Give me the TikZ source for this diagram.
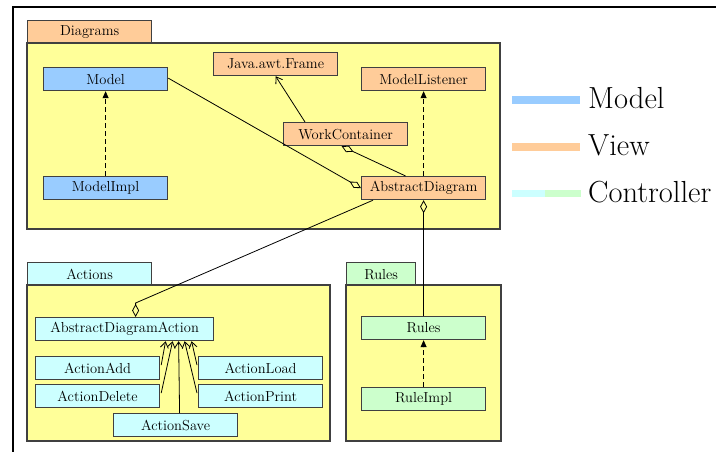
\documentclass[tikz,border=0pt]{standalone}
\usetikzlibrary{arrows.meta,calc}

\definecolor{pkgyellow}{HTML}{FFFF99}
\definecolor{modelblue}{HTML}{99CCFF}
\definecolor{vieworange}{HTML}{FFCC99}
\definecolor{ctrlcyan}{HTML}{CCFFFF}
\definecolor{ctrlgreen}{HTML}{CCFFCC}
\definecolor{edgegray}{HTML}{404040}

\tikzset{
  pkgbody/.style={draw=edgegray, line width=1.3pt, fill=pkgyellow},
  pkgtab/.style={draw=edgegray, line width=1.3pt, anchor=north west,
    minimum width=124pt, minimum height=23pt, inner sep=0pt,
    font=\fontsize{14.5}{16}\selectfont},
  cls/.style={draw=edgegray, line width=1.2pt, anchor=north west,
    minimum width=124pt, minimum height=23pt, inner sep=0pt,
    font=\fontsize{14.5}{16}\selectfont},
  modelcls/.style={cls, fill=modelblue},
  viewcls/.style={cls, fill=vieworange},
  ctrlcls/.style={cls, fill=ctrlcyan},
  rulecls/.style={cls, fill=ctrlgreen},
  assoc/.style={black, line width=0.8pt},
  aggr/.style={assoc, {Diamond[open, length=13pt, width=7pt, line width=0.8pt]}-},
  inherit/.style={assoc, -{Straight Barb[length=6pt, width=8pt, line width=0.8pt]}},
  realize/.style={assoc, dashed, dash pattern=on 5pt off 3pt,
    -{Triangle[length=7pt, width=6pt]}},
  legendline/.style={line width=7.5pt},
  legendtext/.style={anchor=west, inner sep=0pt, font=\fontsize{30.5}{32}\selectfont}
}

\begin{document}
\begin{tikzpicture}[x=1pt, y=-1pt]
\useasboundingbox (0,0) rectangle (716,452);

% outer frame (top and left edges)
\draw[line width=2pt] (13,452) -- (13,7) -- (716,7);

% ---------- package: Diagrams ----------
\node[pkgtab, fill=vieworange] (diagTab) at (27,20) {Diagrams};
\draw[pkgbody] (27,43) rectangle (500,229);

\node[modelcls] (Model)       at (43,67)  {Model};
\node[modelcls] (ModelImpl)   at (43,176) {ModelImpl};
\node[viewcls]  (Frame)       at (213,52) {Java.awt.Frame};
\node[viewcls]  (Work)        at (283,122){WorkContainer};
\node[viewcls]  (Listener)    at (361,67) {ModelListener};
\node[viewcls]  (Abstract)    at (361,176){AbstractDiagram};

% ---------- package: Actions ----------
\node[pkgtab, fill=ctrlcyan] (actTab) at (27,262) {Actions};
\draw[pkgbody] (27,285) rectangle (330,441);

\node[ctrlcls, minimum width=178pt] (ADA) at (35,317) {AbstractDiagramAction};
\node[ctrlcls] (Add)    at (35,356)  {ActionAdd};
\node[ctrlcls] (Delete) at (35,384)  {ActionDelete};
\node[ctrlcls] (Load)   at (198,356) {ActionLoad};
\node[ctrlcls] (Print)  at (198,384) {ActionPrint};
\node[ctrlcls] (Save)   at (113,413) {ActionSave};

% ---------- package: Rules ----------
\node[pkgtab, fill=ctrlgreen, minimum width=69pt] (ruleTab) at (346,262) {Rules};
\draw[pkgbody] (346,285) rectangle (501,441);

\node[rulecls] (Rules)    at (361,316) {Rules};
\node[rulecls] (RuleImpl) at (361,387) {RuleImpl};

% ---------- connectors ----------
\draw[realize] (ModelImpl.north) -- (Model.south);
\draw[realize] (Abstract.north) -- (Listener.south);
\draw[realize] (RuleImpl.north) -- (Rules.south);

\draw[inherit] ($(Work.north west)+(22,0)$) -- ($(Frame.south)+(0,0)$);

\draw[assoc, -{Diamond[open, length=13pt, width=7pt, line width=0.8pt]}]
  ($(Model.east)+(0,-1)$) -- (Abstract.west);
\draw[aggr] ($(Work.south)+(-4,0)$) -- ($(Abstract.north)+(-18,0)$);
\draw[aggr] (Abstract.south) -- (Rules.north);

\coordinate (adaTop) at ($(ADA.north)+(11,0)$);
\draw[aggr] (adaTop) -- ++(0,-14) -- ($(Abstract.south west)+(12,0)$);

% subclasses of AbstractDiagramAction
\draw[inherit] ($(Add.east)+(1,-3)$)    -- ($(ADA.south)+(41,0)$);
\draw[inherit] ($(Delete.east)+(1,-3)$) -- ($(ADA.south)+(48,0)$);
\draw[inherit] ($(Save.north)+(4,0)$)   -- ($(ADA.south)+(54,0)$);
\draw[inherit] ($(Print.west)+(-1,-3)$) -- ($(ADA.south)+(60,0)$);
\draw[inherit] ($(Load.west)+(-1,-3)$)  -- ($(ADA.south)+(67,0)$);

% ---------- legend ----------
\coordinate (lgA) at (512,100);
\draw[legendline, modelblue]  (lgA) -- ++(68,0);
\node[legendtext] (lgModel) at (588,98) {Model};

\coordinate (lgB) at (512,147);
\draw[legendline, vieworange] (lgB) -- ++(68,0);
\node[legendtext] (lgView) at (588,145) {View};

\coordinate (lgC) at (512,193.5);
\draw[legendline, ctrlcyan]   (lgC) -- ++(33,0);
\draw[legendline, ctrlgreen]  ($(lgC)+(33,0)$) -- ++(36,0);
\node[legendtext] (lgCtrl) at (588,192) {Controller};
\end{tikzpicture}
\end{document}
